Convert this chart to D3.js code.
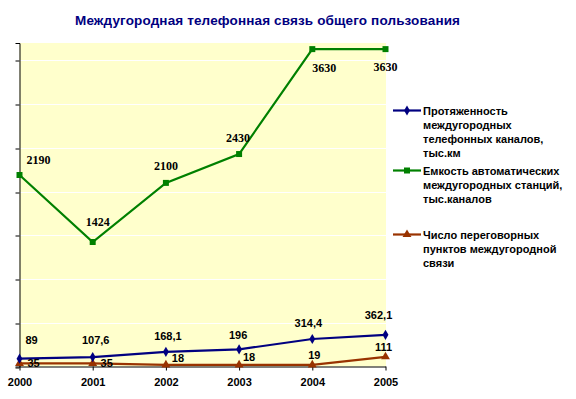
<!DOCTYPE html>
<html>
<head>
<meta charset="utf-8">
<script src="https://cdn.jsdelivr.net/npm/d3@7"></script>
<style>
  html, body { margin: 0; padding: 0; background: #fff; }
  svg { display: block; }
  text { font-family: "Liberation Sans", Arial, sans-serif; font-weight: bold; }
</style>
</head>
<body>
<svg id="chart" width="576" height="399"></svg>
<script>
// данные
const years = ["2000", "2001", "2002", "2003", "2004", "2005"];
const channelsLength = [89, 107.6, 168.1, 196, 314.4, 362.1];   // тыс.км
const stationCapacity = [2190, 1424, 2100, 2430, 3630, 3630];    // тыс.каналов
const callPoints = [35, 35, 18, 18, 19, 111];
const seriesNames = [
  ["Протяженность", "междугородных", "телефонных каналов,", "тыс.км"],
  ["Емкость автоматических", "междугородных станций,", "тыс.каналов"],
  ["Число переговорных", "пунктов междугородной", "связи"]
];
const yTicks = [0, 500, 1000, 1500, 2000, 2500, 3000, 3500];

// сдвиги подписей (вручную, как в исходнике)
const labelShiftLength = [[12, -15], [3, -13], [2, -12], [-1, -10], [-4, -12], [-7, -16]];
const labelShiftCapacity = [[19, -11], [5, -16], [0, -13], [-1, -12], [12, 23], [0, 22]];
const labelShiftPoints = [[14, 4], [14, 4], [12, -3], [10, -4], [2, -6], [-2, -6]];

const svg = d3.select("#chart");
const plot = { left: 19.5, right: 386, top: 43, bottom: 366.5 };

const x = d3.scalePoint().domain(years).range([plot.left, 385.5]);
const y = d3.scaleLinear().domain([0, 3700]).range([plot.bottom, plot.top]);

// заголовок
svg.append("text")
  .attr("x", 267.5).attr("y", 25)
  .attr("text-anchor", "middle")
  .attr("fill", "#000080")
  .attr("textLength", 385)
  .attr("lengthAdjust", "spacing")
  .style("font-size", "13.5px")
  .text("Междугородная телефонная связь общего пользования");

// область построения
svg.append("rect")
  .attr("x", plot.left).attr("y", plot.top)
  .attr("width", plot.right - plot.left).attr("height", plot.bottom - plot.top)
  .attr("fill", "#FFFFCC");

svg.append("g").selectAll("line")
  .data(yTicks.filter(v => v > 0))
  .join("line")
  .attr("x1", plot.left).attr("x2", plot.right)
  .attr("y1", d => Math.round(y(d)) + 0.5).attr("y2", d => Math.round(y(d)) + 0.5)
  .attr("stroke", "#fff").attr("stroke-width", 1);

// оси
const yAxis = d3.axisLeft(y).tickValues(yTicks).tickSize(4).tickFormat("");
svg.append("g")
  .attr("transform", `translate(${plot.left},0)`)
  .call(yAxis)
  .call(g => g.select(".domain").attr("stroke", "#000"))
  .call(g => g.selectAll(".tick line").attr("stroke", "#000").attr("transform", d => `translate(0,${Math.round(y(d)) + 0.5 - y(d)})`));

const xAxis = d3.axisBottom(x).tickSize(4).tickSizeOuter(0).tickPadding(8);
svg.append("g")
  .attr("transform", `translate(0,${plot.bottom})`)
  .call(xAxis)
  .call(g => g.select(".domain").attr("stroke", "#000").attr("d", `M${plot.left},0.5H${plot.right}`))
  .call(g => g.selectAll(".tick line").attr("stroke", "#000"))
  .call(g => g.selectAll(".tick text")
    .attr("fill", "#000")
    .style("font-size", "11px")
    .style("font-family", "'Liberation Sans', Arial, sans-serif"));

// серии
const series = [
  { values: channelsLength, color: "#000080", marker: d3.symbolDiamond, size: 30, shifts: labelShiftLength, serif: false },
  { values: stationCapacity, color: "#008000", marker: d3.symbolSquare, size: 36, shifts: labelShiftCapacity, serif: true },
  { values: callPoints, color: "#993300", marker: d3.symbolTriangle, size: 34, shifts: labelShiftPoints, serif: false }
];

const line = d3.line().x((d, i) => x(years[i])).y(d => y(d));
const fmt = v => String(v).replace(".", ",");

// порядок отрисовки: коричневая, зеленая, синяя сверху
[2, 1, 0].forEach(k => {
  const s = series[k];
  svg.append("path")
    .datum(s.values)
    .attr("d", line)
    .attr("fill", "none")
    .attr("stroke", s.color)
    .attr("stroke-width", 2.2);
  svg.append("g").selectAll("path")
    .data(s.values)
    .join("path")
    .attr("transform", (d, i) => `translate(${x(years[i])},${y(d)})`)
    .attr("d", d3.symbol(s.marker, s.size))
    .attr("fill", s.color);
});

series.forEach(s => {
  svg.append("g").selectAll("text")
    .data(s.values)
    .join("text")
    .attr("x", (d, i) => x(years[i]) + s.shifts[i][0])
    .attr("y", (d, i) => y(d) + s.shifts[i][1])
    .attr("text-anchor", "middle")
    .attr("fill", "#000")
    .style("font-size", s.serif ? "12px" : "11px")
    .style("font-family", s.serif ? "'Liberation Serif', 'Times New Roman', serif" : null)
    .text(fmt);
});

// легенда
const legendTop = [110.5, 170.5, 234.5];
const legend = svg.append("g");
series.forEach((s, k) => {
  const g = legend.append("g").attr("transform", `translate(0,${legendTop[k]})`);
  g.append("line").attr("x1", 393).attr("x2", 421).attr("y1", 0).attr("y2", 0)
    .attr("stroke", s.color).attr("stroke-width", 2.2);
  g.append("path").attr("transform", "translate(407,0)")
    .attr("d", d3.symbol(s.marker, s.size)).attr("fill", s.color);
  g.selectAll("text").data(seriesNames[k]).join("text")
    .attr("x", 423).attr("y", (d, i) => 4.5 + i * 14)
    .attr("fill", "#000")
    .style("font-size", "11px")
    .text(d => d);
});
</script>
</body>
</html>
